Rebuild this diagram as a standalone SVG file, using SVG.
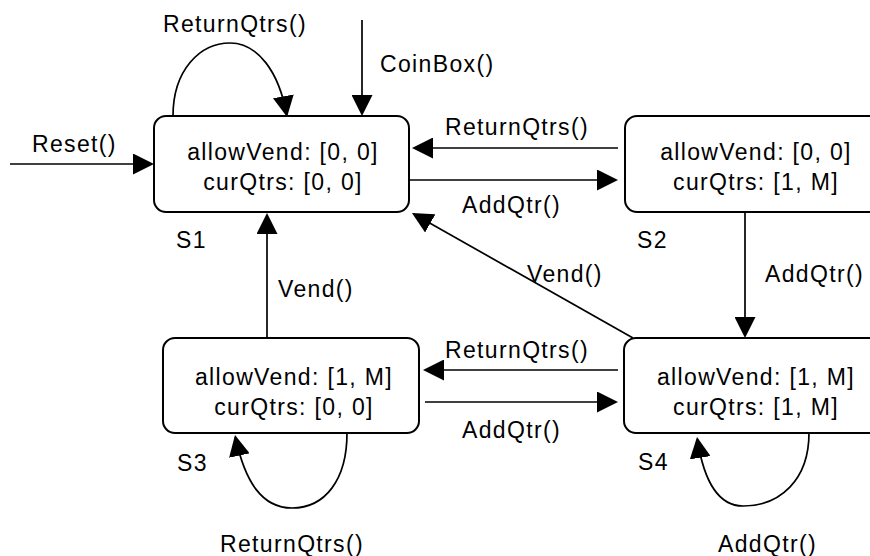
<svg xmlns="http://www.w3.org/2000/svg" width="870" height="556" viewBox="0 0 870 556">
<style>
.box{fill:#fff;stroke:#000;stroke-width:2}
.st{font-family:"Liberation Sans",Arial,sans-serif;font-size:23px;letter-spacing:1.35px;fill:#000;text-anchor:middle}
.lb{font-family:"Liberation Sans",Arial,sans-serif;font-size:23px;letter-spacing:1.35px;fill:#000}
.edge{fill:none;stroke:#000;stroke-width:1.7;marker-end:url(#ah)}
</style>
<defs>
<marker id="ah" markerUnits="userSpaceOnUse" markerWidth="21" markerHeight="21" viewBox="0 0 21 21" refX="19" refY="10.5" orient="auto">
<path d="M0,0 L21,10.5 L0,21 z" fill="#000"/>
</marker>
</defs>
<g id="S1">
<rect class="box" x="154" y="116" width="255" height="96" rx="12"/>
<text class="st" x="283" y="160">allowVend: [0, 0]</text>
<text class="st" x="283" y="190">curQtrs: [0, 0]</text>
<text class="lb" x="176" y="248">S1</text>
</g>
<g id="S2">
<rect class="box" x="625" y="116" width="256" height="96" rx="12"/>
<text class="st" x="756" y="160">allowVend: [0, 0]</text>
<text class="st" x="756" y="190">curQtrs: [1, M]</text>
<text class="lb" x="637" y="248">S2</text>
</g>
<g id="S3">
<rect class="box" x="163" y="338" width="256" height="95" rx="12"/>
<text class="st" x="294" y="385">allowVend: [1, M]</text>
<text class="st" x="294" y="415">curQtrs: [0, 0]</text>
<text class="lb" x="177" y="471">S3</text>
</g>
<g id="S4">
<rect class="box" x="624" y="338" width="257" height="95" rx="12"/>
<text class="st" x="756" y="385">allowVend: [1, M]</text>
<text class="st" x="756" y="415">curQtrs: [1, M]</text>
<text class="lb" x="638" y="470">S4</text>
</g>
<g id="connectors">
<path class="edge" d="M10,164 H152"/>
<path class="edge" d="M362,20 V114"/>
<path class="edge" d="M173,116 C173,70 200,43 230,43 C258,43 279,72 286.7,115"/>
<path class="edge" d="M618,148 H414"/>
<path class="edge" d="M410,180 H616"/>
<path class="edge" d="M745,212 V336"/>
<path class="edge" d="M633,338 L413.7,214"/>
<path class="edge" d="M267,338 V215"/>
<path class="edge" d="M618,370 H425"/>
<path class="edge" d="M425,402 H616"/>
<path class="edge" d="M347,433 C347,480 325,508 292,508 C262,508 245,482 235.4,437"/>
<path class="edge" d="M809,433 C809,480 780,506 743,506 C718,506 704,482 697.3,439"/>
<text class="lb" x="163" y="32">ReturnQtrs()</text>
<text class="lb" x="380" y="72">CoinBox()</text>
<text class="lb" x="32" y="152">Reset()</text>
<text class="lb" x="445" y="135">ReturnQtrs()</text>
<text class="lb" x="462" y="213">AddQtr()</text>
<text class="lb" x="527" y="282">Vend()</text>
<text class="lb" x="765" y="282">AddQtr()</text>
<text class="lb" x="278" y="297">Vend()</text>
<text class="lb" x="445" y="358">ReturnQtrs()</text>
<text class="lb" x="462" y="438">AddQtr()</text>
<text class="lb" x="220" y="552">ReturnQtrs()</text>
<text class="lb" x="718" y="552">AddQtr()</text>
</g>
</svg>
